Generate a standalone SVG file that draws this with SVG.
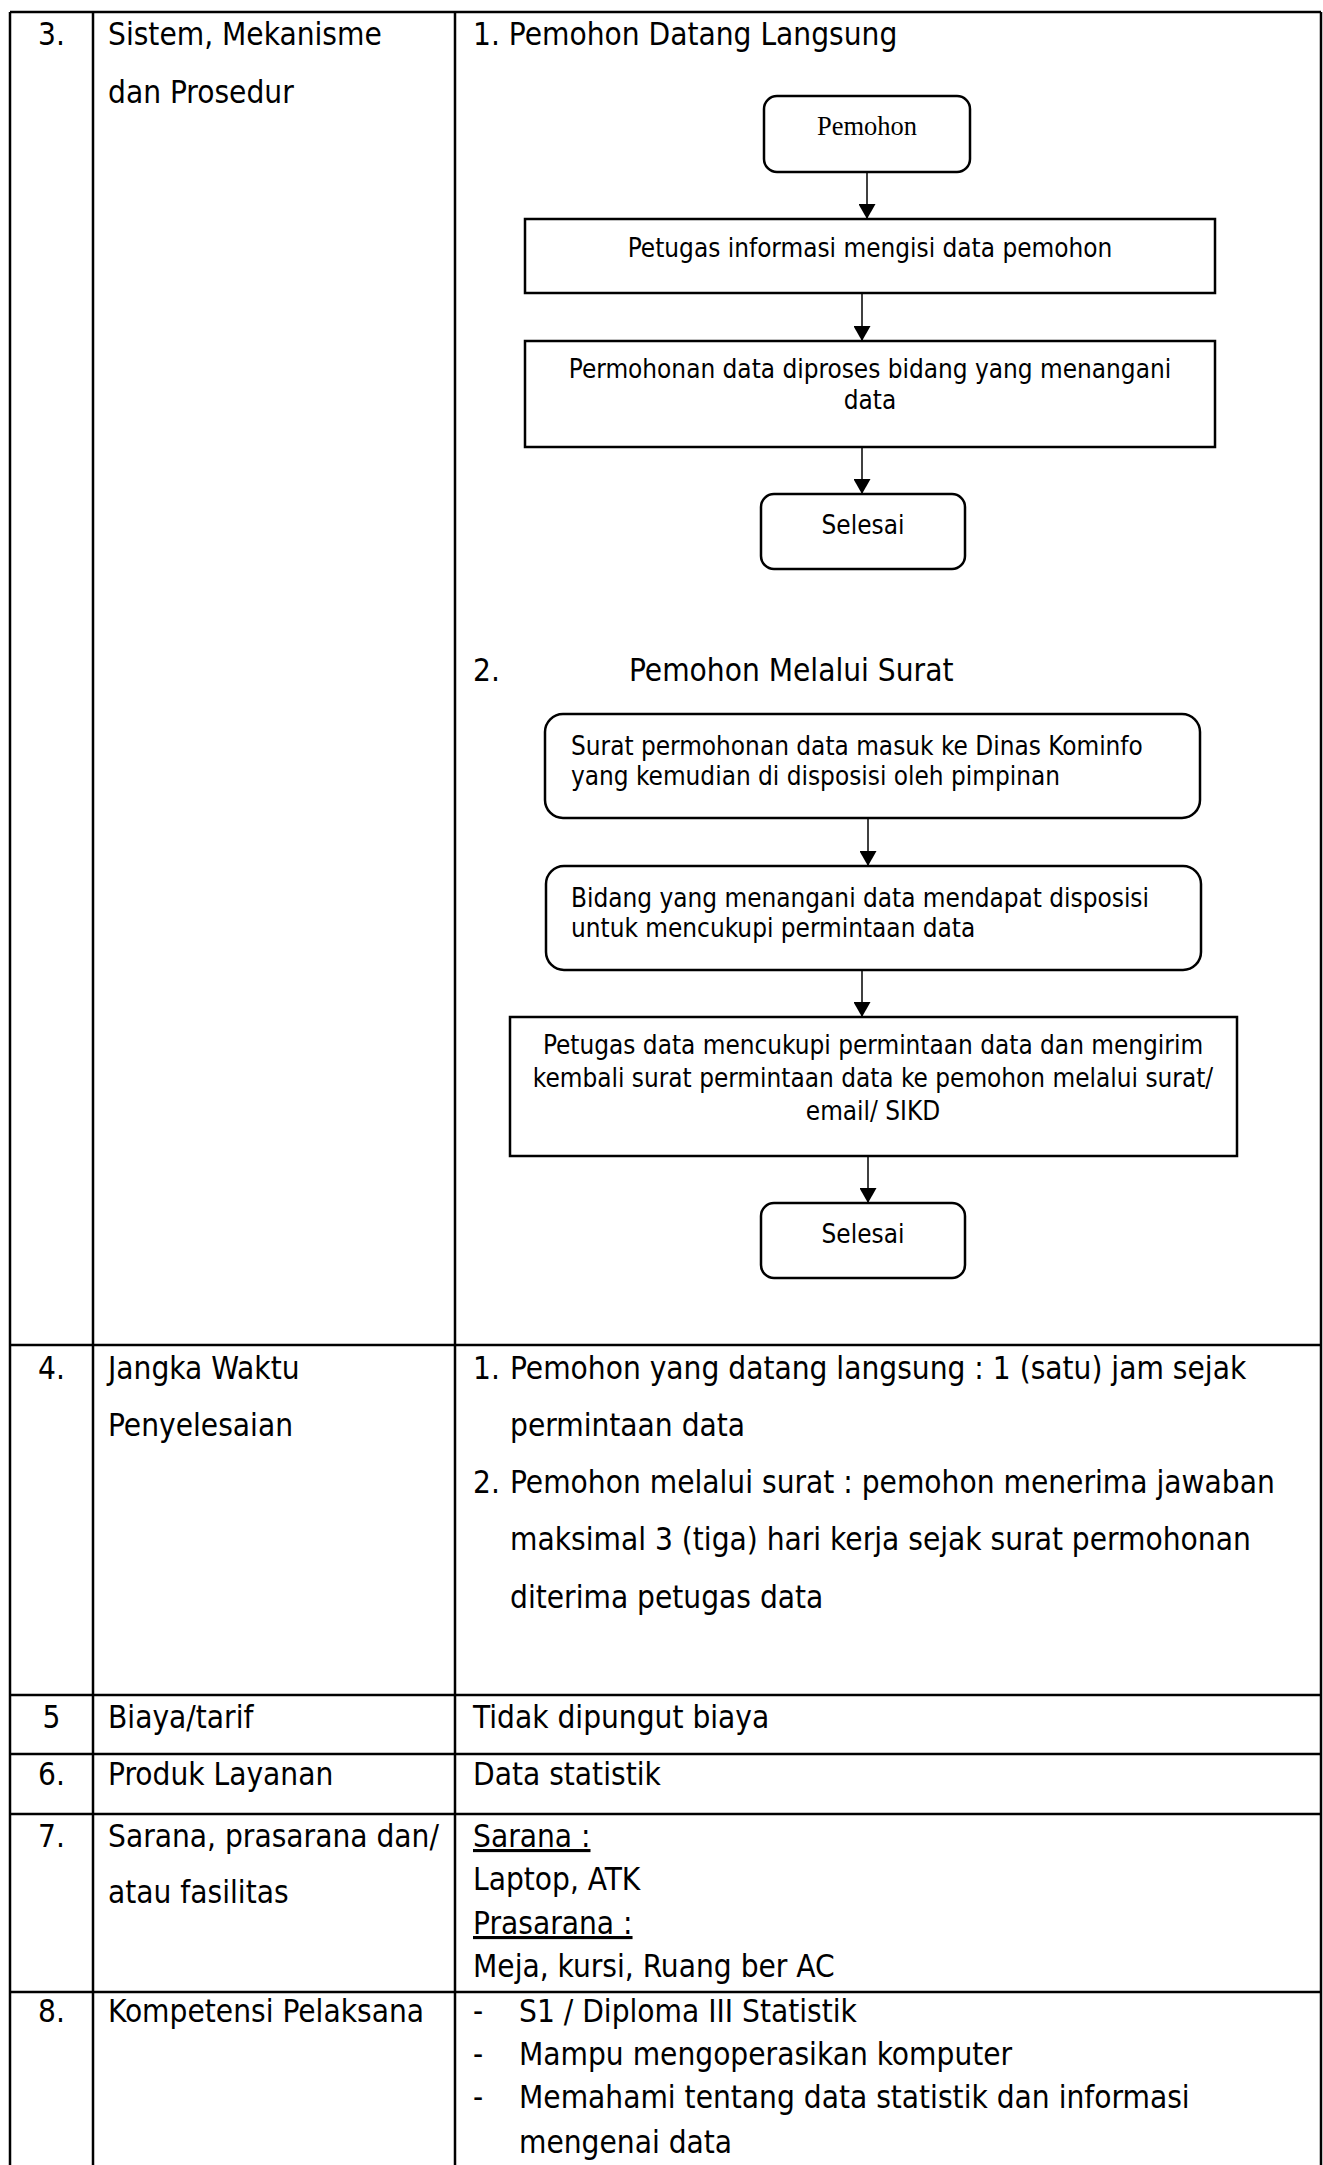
<svg xmlns="http://www.w3.org/2000/svg" width="1323" height="2165" viewBox="0 0 1323 2165">
<style>
.bg{fill:#fff}
.grid{stroke:#000;stroke-width:2.5;fill:none}
.t{font-family:"DejaVu Sans Condensed","DejaVu Sans",sans-serif;font-stretch:condensed;font-size:31.3px;fill:#000}
.f{font-family:"DejaVu Sans Condensed","DejaVu Sans",sans-serif;font-stretch:condensed;font-size:25.9px;fill:#000}
.pm{font-family:"Liberation Serif",serif;font-size:26.5px;fill:#000}
.c{text-anchor:middle}
.box{fill:#fff;stroke:#000;stroke-width:2.5}
.conn{stroke:#000;stroke-width:1.5;fill:none;marker-end:url(#ah)}
.u{text-decoration:underline}
</style>
<defs>
<marker id="ah" viewBox="0 0 15 17" refX="15" refY="8.5" markerWidth="15" markerHeight="17" markerUnits="userSpaceOnUse" orient="auto">
<path d="M0,0 L15,8.5 L0,17 z" fill="#000"/>
</marker>
</defs>
<rect class="bg" x="0" y="0" width="1323" height="2165"/>
<g id="table" class="grid">
<line x1="10" y1="12" x2="1321" y2="12"/>
<line x1="10" y1="1345" x2="1321" y2="1345"/>
<line x1="10" y1="1695" x2="1321" y2="1695"/>
<line x1="10" y1="1754" x2="1321" y2="1754"/>
<line x1="10" y1="1814" x2="1321" y2="1814"/>
<line x1="10" y1="1992" x2="1321" y2="1992"/>
<line x1="10" y1="12" x2="10" y2="2165"/>
<line x1="93" y1="12" x2="93" y2="2165"/>
<line x1="455" y1="12" x2="455" y2="2165"/>
<line x1="1321" y1="12" x2="1321" y2="2165"/>
</g>
<g id="row3" class="t">
<text class="c" x="51.5" y="45">3.</text>
<text x="108" y="45">Sistem, Mekanisme</text>
<text x="108" y="103">dan Prosedur</text>
<text x="473" y="45">1. Pemohon Datang Langsung</text>
<text x="473" y="681">2.</text>
<text x="629" y="681">Pemohon Melalui Surat</text>
</g>
<g id="connectors">
<line class="conn" x1="867" y1="172" x2="867" y2="219"/>
<line class="conn" x1="862" y1="293" x2="862" y2="341"/>
<line class="conn" x1="862" y1="447" x2="862" y2="494"/>
<line class="conn" x1="868" y1="818" x2="868" y2="866"/>
<line class="conn" x1="862" y1="970" x2="862" y2="1017"/>
<line class="conn" x1="868" y1="1156" x2="868" y2="1203"/>
</g>
<g id="n-pemohon">
<rect class="box" x="764" y="96" width="206" height="76" rx="13"/>
<text class="pm c" x="867" y="135">Pemohon</text>
</g>
<g id="n-petugas-info">
<rect class="box" x="525" y="219" width="690" height="74"/>
<text class="f c" x="870" y="257">Petugas informasi mengisi data pemohon</text>
</g>
<g id="n-permohonan">
<rect class="box" x="525" y="341" width="690" height="106"/>
<text class="f c" x="870" y="378">Permohonan data diproses bidang yang menangani</text>
<text class="f c" x="870" y="409">data</text>
</g>
<g id="n-selesai1">
<rect class="box" x="761" y="494" width="204" height="75" rx="13"/>
<text class="f c" x="863" y="534">Selesai</text>
</g>
<g id="n-surat">
<rect class="box" x="545" y="714" width="655" height="104" rx="18"/>
<text class="f" x="571" y="755">Surat permohonan data masuk ke Dinas Kominfo</text>
<text class="f" x="571" y="785">yang kemudian di disposisi oleh pimpinan</text>
</g>
<g id="n-bidang">
<rect class="box" x="546" y="866" width="655" height="104" rx="18"/>
<text class="f" x="571" y="907">Bidang yang menangani data mendapat disposisi</text>
<text class="f" x="571" y="937">untuk mencukupi permintaan data</text>
</g>
<g id="n-petugas-data">
<rect class="box" x="510" y="1017" width="727" height="139"/>
<text class="f c" x="873" y="1054">Petugas data mencukupi permintaan data dan mengirim</text>
<text class="f c" x="873" y="1087">kembali surat permintaan data ke pemohon melalui surat/</text>
<text class="f c" x="873" y="1120">email/ SIKD</text>
</g>
<g id="n-selesai2">
<rect class="box" x="761" y="1203" width="204" height="75" rx="13"/>
<text class="f c" x="863" y="1243">Selesai</text>
</g>
<g id="row4" class="t">
<text class="c" x="51.5" y="1379">4.</text>
<text x="108" y="1379">Jangka Waktu</text>
<text x="108" y="1436">Penyelesaian</text>
<text x="473" y="1379">1.</text>
<text x="510" y="1379">Pemohon yang datang langsung : 1 (satu) jam sejak</text>
<text x="510" y="1436">permintaan data</text>
<text x="473" y="1493">2.</text>
<text x="510" y="1493">Pemohon melalui surat : pemohon menerima jawaban</text>
<text x="510" y="1550">maksimal 3 (tiga) hari kerja sejak surat permohonan</text>
<text x="510" y="1608">diterima petugas data</text>
</g>
<g id="row5" class="t">
<text class="c" x="51.5" y="1728">5</text>
<text x="108" y="1728">Biaya/tarif</text>
<text x="473" y="1728">Tidak dipungut biaya</text>
</g>
<g id="row6" class="t">
<text class="c" x="51.5" y="1785">6.</text>
<text x="108" y="1785">Produk Layanan</text>
<text x="473" y="1785">Data statistik</text>
</g>
<g id="row7" class="t">
<text class="c" x="51.5" y="1847">7.</text>
<text x="108" y="1847">Sarana, prasarana dan/</text>
<text x="108" y="1903">atau fasilitas</text>
<text class="u" x="473" y="1847">Sarana :</text>
<text x="473" y="1890">Laptop, ATK</text>
<text class="u" x="473" y="1934">Prasarana :</text>
<text x="473" y="1977">Meja, kursi, Ruang ber AC</text>
</g>
<g id="row8" class="t">
<text class="c" x="51.5" y="2022">8.</text>
<text x="108" y="2022">Kompetensi Pelaksana</text>
<text x="473" y="2022">-</text>
<text x="519" y="2022">S1 / Diploma III Statistik</text>
<text x="473" y="2065">-</text>
<text x="519" y="2065">Mampu mengoperasikan komputer</text>
<text x="473" y="2108">-</text>
<text x="519" y="2108">Memahami tentang data statistik dan informasi</text>
<text x="519" y="2153">mengenai data</text>
</g>
</svg>
